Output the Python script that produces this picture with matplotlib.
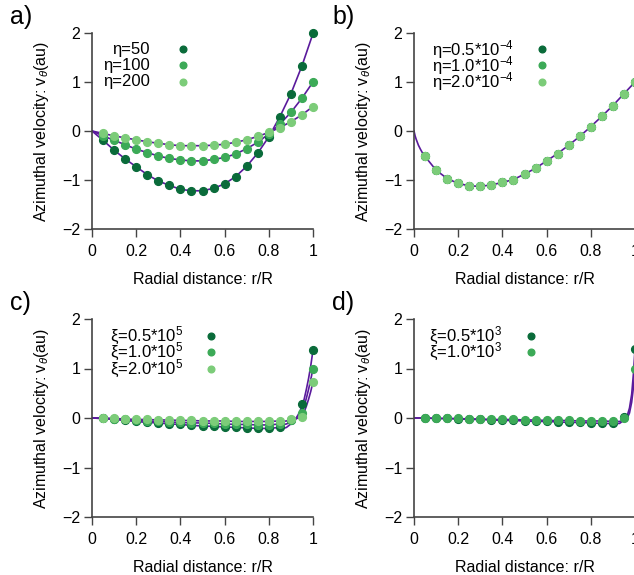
import matplotlib.pyplot as plt
import numpy as np

plt.rcParams['font.family'] = ['Liberation Sans', 'DejaVu Sans']
plt.rcParams['mathtext.fontset'] = 'custom'
plt.rcParams['mathtext.rm'] = 'Liberation Sans'
plt.rcParams['mathtext.it'] = 'Liberation Sans:italic'

# radial positions of the sampled points
r = [0.05, 0.10, 0.15, 0.20, 0.25, 0.30, 0.35, 0.40, 0.45, 0.50,
     0.55, 0.60, 0.65, 0.70, 0.75, 0.80, 0.85, 0.90, 0.95, 1.00]

# panel a) eta = 50, 100, 200
a_eta50 = [-0.19, -0.39, -0.57, -0.73, -0.89, -1.02, -1.11, -1.19, -1.22, -1.22,
           -1.17, -1.08, -0.93, -0.72, -0.45, -0.12, 0.29, 0.76, 1.33, 1.99]
a_eta100 = [-0.10, -0.19, -0.28, -0.37, -0.44, -0.51, -0.56, -0.59, -0.61, -0.61,
            -0.58, -0.54, -0.47, -0.36, -0.23, -0.06, 0.14, 0.38, 0.67, 1.00]
a_eta200 = [-0.05, -0.10, -0.14, -0.18, -0.22, -0.25, -0.28, -0.30, -0.30, -0.30,
            -0.29, -0.27, -0.23, -0.18, -0.11, -0.03, 0.07, 0.19, 0.33, 0.50]

# panel b) eta = 0.5e-4, 1e-4, 2e-4 (points coincide)
b_vals = [-0.52, -0.80, -0.97, -1.07, -1.12, -1.13, -1.10, -1.05, -0.99, -0.88,
          -0.76, -0.61, -0.46, -0.29, -0.11, 0.09, 0.30, 0.52, 0.76, 1.00]
b_line_r = [0.0, 0.005, 0.01, 0.02, 0.03, 0.04]
b_line_v = [0.0, -0.10, -0.17, -0.29, -0.38, -0.46]

# panel c) xi = 0.5e5, 1e5, 2e5
c_xi05 = [-0.01, -0.03, -0.05, -0.07, -0.09, -0.10, -0.12, -0.13, -0.15, -0.16,
          -0.17, -0.18, -0.19, -0.20, -0.21, -0.21, -0.19, -0.05, 0.29, 1.37]
c_xi10 = [-0.01, -0.02, -0.03, -0.05, -0.06, -0.07, -0.08, -0.09, -0.10, -0.10,
          -0.11, -0.12, -0.13, -0.13, -0.14, -0.14, -0.12, -0.04, 0.10, 1.00]
c_xi20 = [0.00, -0.01, -0.02, -0.03, -0.03, -0.04, -0.04, -0.05, -0.05, -0.06,
          -0.06, -0.06, -0.07, -0.07, -0.07, -0.07, -0.06, -0.02, 0.02, 0.73]
c_line_r = [0.86, 0.88, 0.90, 0.92, 0.94, 0.96, 0.97, 0.98, 0.99]
c_line_05 = [-0.22, -0.19, -0.12, -0.03, 0.12, 0.38, 0.58, 0.80, 1.06]
c_line_10 = [-0.14, -0.12, -0.08, -0.02, 0.06, 0.24, 0.40, 0.58, 0.78]
c_line_20 = [-0.07, -0.06, -0.04, -0.02, 0.01, 0.12, 0.24, 0.38, 0.54]

# panel d) xi = 0.5e3, 1e3
d_xi05 = [0.00, -0.01, -0.01, -0.02, -0.03, -0.03, -0.04, -0.05, -0.05, -0.06,
          -0.07, -0.07, -0.08, -0.09, -0.09, -0.10, -0.11, -0.11, 0.03, 1.39]
d_xi10 = [0.00, -0.01, -0.01, -0.01, -0.02, -0.02, -0.03, -0.03, -0.03, -0.04,
          -0.04, -0.05, -0.05, -0.05, -0.06, -0.06, -0.06, -0.07, -0.01, 1.00]
d_line_r = [0.93, 0.955, 0.965, 0.975, 0.985, 0.993]
d_line_05 = [-0.11, -0.03, 0.05, 0.20, 0.48, 0.90]
d_line_10 = [-0.07, -0.04, 0.00, 0.10, 0.32, 0.62]

greens = ['#0a6b3a', '#3caa57', '#7ccc79']
purple = '#5a1a9c'

xticks = [0, 0.2, 0.4, 0.6, 0.8, 1]
xticklabels = ['0', '0.2', '0.4', '0.6', '0.8', '1']
yticks = [-2, -1, 0, 1, 2]

fig = plt.figure(figsize=(6.34, 5.75), dpi=100)

pos = {'a': [92 / 634, 1 - 229 / 575, 221 / 634, 196 / 575],
       'b': [414 / 634, 1 - 229 / 575, 221 / 634, 196 / 575],
       'c': [92 / 634, 1 - 517 / 575, 221 / 634, 198 / 575],
       'd': [414 / 634, 1 - 517 / 575, 221 / 634, 198 / 575]}


def setup(ax, label):
    ax.set_xlim(0, 1)
    ax.set_ylim(-2, 2)
    for s in ['top', 'right']:
        ax.spines[s].set_visible(False)
    for s in ['left', 'bottom']:
        ax.spines[s].set_color('#444444')
        ax.spines[s].set_linewidth(1.2)
    ax.set_xticks(xticks)
    ax.set_xticklabels(xticklabels)
    ax.set_yticks(yticks)
    ax.tick_params(direction='out', length=5.5, width=1.0, color='#444444',
                   labelsize=11.5, pad=3)
    ax.tick_params(axis='x', pad=5)
    ax.set_xlabel('Radial distance: r/R', fontsize=11.5, labelpad=10)
    ax.set_ylabel(r'Azimuthal velocity: v$_\theta$(au)', fontsize=11.5, labelpad=8)
    ax.patch.set_alpha(0)
    ax.text(-0.37, 1.02, label, transform=ax.transAxes, fontsize=18,
            va='bottom', ha='left')


def legend(ax, x_text, x_dot, labels, ha='right', y0=1.67, dy=0.33):
    for i, lab in enumerate(labels):
        y = y0 - i * dy
        ax.text(x_text, y, lab, ha=ha, va='center', fontsize=12)
        ax.plot([x_dot], [y], 'o', ms=4.8, color=greens[i], clip_on=False)


def dots(ax, vals, i):
    ax.plot(r, vals, 'o', ms=5.6, color=greens[i], clip_on=False, zorder=3)


# a)
ax = fig.add_axes(pos['a'])
setup(ax, 'a)')
for i, v in enumerate([a_eta50, a_eta100, a_eta200]):
    ax.plot([0] + r, [0] + v, color=purple, lw=1.2, zorder=2)
for i, v in enumerate([a_eta50, a_eta100, a_eta200]):
    dots(ax, v, i)
legend(ax, 0.262, 0.41, ['η=50', 'η=100', 'η=200'])

# b)
ax = fig.add_axes(pos['b'])
setup(ax, 'b)')
ax.plot(b_line_r + r, b_line_v + b_vals, color=purple, lw=1.2, zorder=2)
for i in range(3):
    dots(ax, b_vals, i)
legend(ax, 0.08, 0.58, ['η=0.5*10$^{-4}$', 'η=1.0*10$^{-4}$',
                        'η=2.0*10$^{-4}$'], ha='left')

# c)
ax = fig.add_axes(pos['c'])
setup(ax, 'c)')
sets_c = [(c_xi05, c_line_05), (c_xi10, c_line_10), (c_xi20, c_line_20)]
for v, lv in sets_c:
    rr = [0] + r[:17] + c_line_r + [1.0]
    vv = [0] + v[:17] + lv + [v[-1]]
    order = np.argsort(rr, kind='stable')
    ax.plot(np.array(rr)[order], np.array(vv)[order], color=purple, lw=1.2, zorder=2)
for i, (v, lv) in enumerate(sets_c):
    dots(ax, v, i)
legend(ax, 0.08, 0.54, ['ξ=0.5*10$^5$', 'ξ=1.0*10$^5$', 'ξ=2.0*10$^5$'],
       ha='left', y0=1.66)

# d)
ax = fig.add_axes(pos['d'])
setup(ax, 'd)')
sets_d = [(d_xi05, d_line_05), (d_xi10, d_line_10)]
for v, lv in sets_d:
    rr = [0] + r[:18] + d_line_r + [1.0]
    vv = [0] + v[:18] + lv + [v[-1]]
    order = np.argsort(rr, kind='stable')
    ax.plot(np.array(rr)[order], np.array(vv)[order], color=purple, lw=1.2, zorder=2)
for i, (v, lv) in enumerate(sets_d):
    dots(ax, v, i)
legend(ax, 0.07, 0.53, ['ξ=0.5*10$^3$', 'ξ=1.0*10$^3$'], ha='left', y0=1.66)

plt.savefig('out.png', dpi=100)
